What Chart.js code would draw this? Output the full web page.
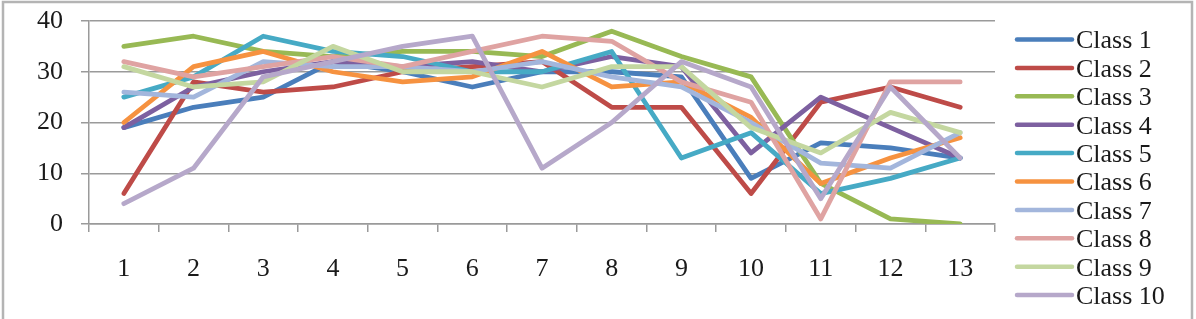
<!DOCTYPE html>
<html>
<head>
<meta charset="utf-8">
<script src="https://cdn.jsdelivr.net/npm/chart.js@4/dist/chart.umd.min.js"></script>
<style>
  html, body { margin: 0; padding: 0; background: #fff; overflow: hidden; }
  #wrap { position: relative; width: 1196px; height: 319px; }
</style>
</head>
<body>
<div id="wrap"><canvas id="c" width="1196" height="319"></canvas></div>
<script>
const categories = ['1','2','3','4','5','6','7','8','9','10','11','12','13'];
const seriesNames = ['Class 1','Class 2','Class 3','Class 4','Class 5','Class 6','Class 7','Class 8','Class 9','Class 10'];
const class1  = [19,23,25,32,30,27,30,30,29, 9,16,15,13];
const class2  = [ 6,28,26,27,30,31,32,23,23, 6,24,27,23];
const class3  = [35,37,34,33,34,34,33,38,33,29, 8, 1, 0];
const class4  = [19,27,30,32,31,32,30,33,31,14,25,19,13];
const class5  = [25,29,37,34,33,30,30,34,13,18, 6, 9,13];
const class6  = [20,31,34,30,28,29,34,27,28,21, 8,13,17];
const class7  = [26,25,32,31,31,30,32,29,27,20,12,11,18];
const class8  = [32,29,31,33,31,34,37,36,28,24, 1,28,28];
const class9  = [31,27,28,35,30,30,27,31,31,19,14,22,18];
const class10 = [ 4,11,29,32,35,37,11,20,32,27, 5,27,13];
const yTicks = [0,10,20,30,40];
const seriesValues = [class1,class2,class3,class4,class5,class6,class7,class8,class9,class10];
const seriesColors = ['#4A7EBB','#BE4B48','#98B954','#7D60A0','#46AAC5','#F69240','#A3B6DC','#DFA3A2','#C4D7A0','#B6A8CA'];

const FONT = "'Liberation Serif', 'Times New Roman', serif";

const datasets = seriesNames.map((n, i) => ({
  label: n,
  data: seriesValues[i],
  borderColor: seriesColors[i],
  backgroundColor: seriesColors[i],
  borderWidth: 4.8,
  pointRadius: 0,
  pointHoverRadius: 0,
  tension: 0,
  fill: false,
  borderJoinStyle: 'round',
  borderCapStyle: 'round',
  order: seriesNames.length - i
}));

const framePlugin = {
  id: 'frame',
  beforeDraw(chart) {
    const ctx = chart.ctx;
    ctx.save();
    ctx.fillStyle = '#ffffff';
    ctx.fillRect(0, 0, chart.width, chart.height);
    ctx.strokeStyle = '#b4b4b4';
    ctx.lineWidth = 2.5;
    ctx.strokeRect(3, 2, 1189, 340);
    ctx.restore();
  }
};

const legendPlugin = {
  id: 'sideLegend',
  afterDraw(chart) {
    const ctx = chart.ctx;
    ctx.save();
    const x0 = 1017, x1 = 1072, tx = 1076, y0 = 39.5, step = 28.4;
    chart.data.datasets.forEach((ds, i) => {
      const y = y0 + i * step;
      ctx.strokeStyle = ds.borderColor;
      ctx.lineWidth = 4.5;
      ctx.lineCap = 'round';
      ctx.beginPath();
      ctx.moveTo(x0, y);
      ctx.lineTo(x1, y);
      ctx.stroke();
      ctx.fillStyle = '#1a1a1a';
      ctx.font = '26px ' + FONT;
      ctx.textAlign = 'left';
      ctx.textBaseline = 'middle';
      ctx.fillText(ds.label, tx, y + 2);
    });
    ctx.restore();
  }
};

new Chart(document.getElementById('c'), {
  type: 'line',
  data: { labels: categories, datasets },
  options: {
    responsive: false,
    animation: false,
    events: [],
    layout: { padding: { left: 0, top: 21, right: 201, bottom: 0 } },
    plugins: { legend: { display: false }, tooltip: { enabled: false } },
    scales: {
      x: {
        type: 'category',
        offset: true,
        grid: {
          offset: true,
          drawOnChartArea: false,
          drawTicks: true,
          tickLength: 8,
          color: '#9a9a9a',
          lineWidth: 1.5
        },
        border: { display: true, color: '#9a9a9a', width: 1.5 },
        ticks: {
          color: '#1a1a1a',
          font: { family: FONT, size: 26 },
          padding: 22,
          maxRotation: 0,
          autoSkip: false
        },
        afterFit(s) { s.height = 95; s.paddingLeft = 0; s.paddingRight = 0; }
      },
      y: {
        min: 0,
        max: 40,
        afterBuildTicks(s) { s.ticks = yTicks.map(v => ({ value: v })); },
        grid: {
          color: '#9a9a9a',
          lineWidth: 1.5,
          drawTicks: true,
          tickLength: 8
        },
        border: { display: true, color: '#9a9a9a', width: 1.5 },
        ticks: {
          color: '#1a1a1a',
          font: { family: FONT, size: 26 },
          padding: 18
        },
        afterFit(s) { s.width = 89; s.paddingTop = 0; s.paddingBottom = 0; }
      }
    }
  },
  plugins: [framePlugin, legendPlugin]
});
</script>
</body>
</html>
